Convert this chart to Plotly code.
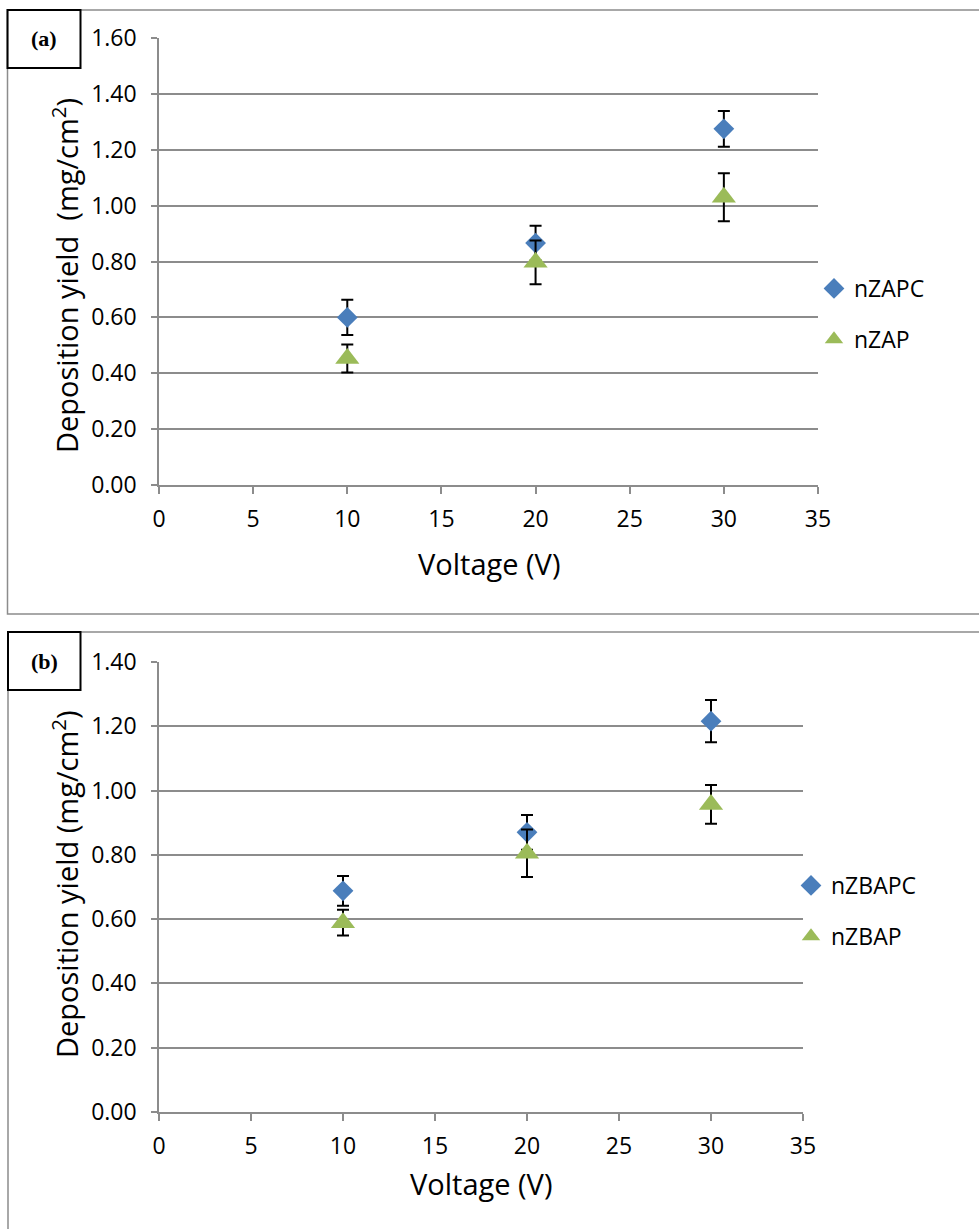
import plotly.graph_objects as go

# ---------------- data ----------------
voltage = [10, 20, 30]

# panel (a)
a_nzapc = [0.600, 0.866, 1.275]
a_nzapc_err = [0.063, 0.062, 0.064]
a_nzap = [0.453, 0.797, 1.030]
a_nzap_err = [0.050, 0.078, 0.086]

# panel (b)
b_nzbapc = [0.688, 0.870, 1.216]
b_nzbapc_err = [0.046, 0.054, 0.066]
b_nzbap = [0.589, 0.805, 0.957]
b_nzbap_err = [0.040, 0.074, 0.060]

x_ticks = [0, 5, 10, 15, 20, 25, 30, 35]
a_y_ticks = [0.0, 0.2, 0.4, 0.6, 0.8, 1.0, 1.2, 1.4, 1.6]
b_y_ticks = [0.0, 0.2, 0.4, 0.6, 0.8, 1.0, 1.2, 1.4]

# ---------------- styling ----------------
W, H = 979, 1229
BLUE = "#4a7ebb"
GREEN = "#9bbb59"
GRID = "#8c8c8c"
FONT = "Open Sans"
TICKSIZE = 23


def px_x(p):
    return p / W


def px_y(p):
    return 1 - p / H


fig = go.Figure()


def add_pair(xa, ya, y1, e1, n1, y2, e2, n2, legend):
    fig.add_trace(go.Scatter(
        x=voltage, y=y1, mode="markers", name=n1, xaxis=xa, yaxis=ya,
        legend=legend, legendgroup=n1,
        marker=dict(symbol="diamond", size=16, color=BLUE),
        error_y=dict(type="data", array=e1, visible=True, color="black",
                     thickness=2, width=6),
    ))
    fig.add_trace(go.Scatter(
        x=voltage, y=y2, mode="markers", name=n2, xaxis=xa, yaxis=ya,
        legend=legend, legendgroup=n2,
        marker=dict(symbol="triangle-up", size=21, color=GREEN),
        error_y=dict(type="data", array=e2, visible=True, color="black",
                     thickness=2, width=6),
    ))


add_pair("x", "y", a_nzapc, a_nzapc_err, "nZAPC", a_nzap, a_nzap_err, "nZAP", "legend")
add_pair("x2", "y2", b_nzbapc, b_nzbapc_err, "nZBAPC", b_nzbap, b_nzbap_err, "nZBAP", "legend2")

xcommon = dict(range=[0, 35], tickvals=x_ticks, showgrid=False, zeroline=False,
               showline=True, linecolor=GRID, linewidth=1.5,
               ticks="outside", ticklen=7, tickcolor=GRID, tickwidth=1.5,
               tickfont=dict(family=FONT, size=TICKSIZE, color="black"),
               ticklabelstandoff=6, fixedrange=True)
ycommon = dict(showgrid=True, gridcolor=GRID, gridwidth=1.5, zeroline=False,
               showline=True, linecolor=GRID, linewidth=1.5,
               ticks="outside", ticklen=6, tickcolor=GRID, tickwidth=1.5,
               tickformat=".2f",
               tickfont=dict(family=FONT, size=TICKSIZE, color="black"),
               ticklabelstandoff=10, fixedrange=True)

fig.update_layout(
    width=W, height=H,
    margin=dict(l=0, r=0, t=0, b=0, autoexpand=False),
    paper_bgcolor="white", plot_bgcolor="white",
    font=dict(family=FONT, color="black"),
    xaxis=dict(domain=[px_x(159), px_x(818)], anchor="y", **xcommon),
    yaxis=dict(domain=[px_y(485), px_y(38)], anchor="x", range=[0, 1.6],
               tickvals=a_y_ticks, **ycommon),
    xaxis2=dict(domain=[px_x(159), px_x(803)], anchor="y2", **xcommon),
    yaxis2=dict(domain=[px_y(1112), px_y(662)], anchor="x2", range=[0, 1.4],
                tickvals=b_y_ticks, **ycommon),
    legend=dict(x=px_x(814), y=px_y(267), xanchor="left", yanchor="top",
                font=dict(family=FONT, size=TICKSIZE, color="black"),
                tracegroupgap=18, bgcolor="rgba(0,0,0,0)"),
    legend2=dict(x=px_x(791), y=px_y(864), xanchor="left", yanchor="top",
                 font=dict(family=FONT, size=TICKSIZE, color="black"),
                 tracegroupgap=18, bgcolor="rgba(0,0,0,0)"),
)

# frames around the two panels
shapes = [
    dict(type="rect", xref="paper", yref="paper",
         x0=px_x(7.5), x1=px_x(990), y0=px_y(614), y1=px_y(10),
         line=dict(color=GRID, width=1.5), layer="below"),
    dict(type="rect", xref="paper", yref="paper",
         x0=px_x(8), x1=px_x(990), y0=px_y(1240), y1=px_y(632),
         line=dict(color=GRID, width=1.5), layer="below"),
    dict(type="rect", xref="paper", yref="paper",
         x0=px_x(7.5), x1=px_x(80.5), y0=px_y(68), y1=px_y(10),
         line=dict(color="black", width=2)),
    dict(type="rect", xref="paper", yref="paper",
         x0=px_x(8), x1=px_x(80.5), y0=px_y(690), y1=px_y(632),
         line=dict(color="black", width=2)),
]
fig.update_layout(shapes=shapes)

anns = []
for text, yy in [("<b>(a)</b>", 39), ("<b>(b)</b>", 661)]:
    anns.append(dict(text=text, x=px_x(44), y=px_y(yy), xref="paper", yref="paper",
                     showarrow=False, xanchor="center", yanchor="middle",
                     font=dict(family="Liberation Serif", size=22, color="black")))
titles = [
    ("Voltage (V)", px_x(489), px_y(563), 0),
    ("Voltage (V)", px_x(481), px_y(1183), 0),
    ("Deposition yield  (mg/cm<sup>2</sup>)", px_x(65), px_y(276), -90),
    ("Deposition yield (mg/cm<sup>2</sup>)", px_x(65), px_y(884), -90),
]
for t, x, y, ang in titles:
    anns.append(dict(text=t, x=x, y=y, xref="paper", yref="paper",
                     showarrow=False, xanchor="center", yanchor="middle",
                     textangle=ang,
                     font=dict(family=FONT, size=29, color="black")))
fig.update_layout(annotations=anns)

fig.write_html("out.html")
